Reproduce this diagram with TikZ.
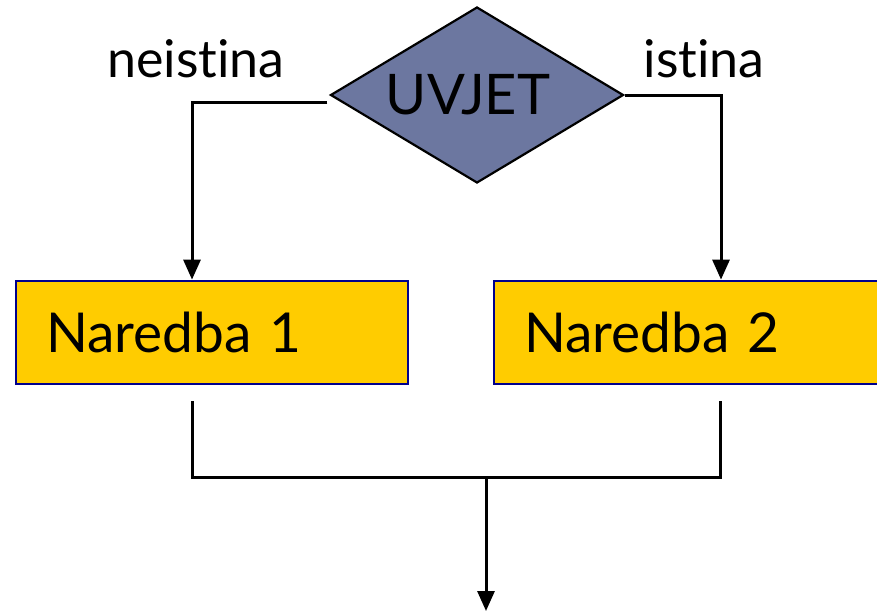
\documentclass[tikz,border=0pt]{standalone}
\usepackage{fontspec}
\setmainfont{Lato}[Ligatures=NoCommon]
\usetikzlibrary{shapes.geometric,arrows.meta,calc}
\definecolor{slate}{RGB}{108,119,160}
\definecolor{gold}{RGB}{255,204,0}
\definecolor{navy}{RGB}{0,0,140}
\tikzset{
  cond/.style={diamond,shape aspect=1.665,draw=black,line width=2.2pt,fill=slate,minimum width=293pt,minimum height=176pt,inner sep=0pt,font=\fontsize{56}{60}\selectfont},
  stmt/.style={rectangle,draw=navy,line width=2.8pt,fill=gold,minimum width=392pt,minimum height=103pt,text width=332pt,align=left,inner xsep=30pt,font=\fontsize{55}{60}\selectfont},
  lbl/.style={anchor=base,inner sep=0pt,font=\fontsize{52}{56}\selectfont},
  conn/.style={draw=black,line width=3pt},
  arr/.style={conn,-{Triangle[width=17pt,length=20pt]}}
}
\begin{document}
\begin{tikzpicture}[x=1pt,y=-1pt]
\clip (0,0) rectangle (877,613);
\fill[white] (0,0) rectangle (877,613);
\node[cond] (d) at (477,95) {UVJET\hspace*{18pt}};
\node[stmt] (b1) at (212,332.5) {Naredba 1};
\node[stmt] (b2) at (690,332.5) {Naredba 2};
\node[lbl] (ln) at (196,77) {neistina};
\node[lbl] (lt) at (704,77) {istina};
\coordinate (j) at (486,477);
\coordinate (out) at (486,611);
\draw[arr] ([xshift=-2pt,yshift=-7pt]d.west) -| ([xshift=-20pt]b1.north);
\draw[arr] (d.east) -| ([xshift=31pt]b2.north);
\draw[conn] ([xshift=-20pt,yshift=-16pt]b1.south) |- (j) -| ([xshift=30pt,yshift=-16pt]b2.south);
\draw[arr] (j) -- (out);
\end{tikzpicture}
\end{document}
